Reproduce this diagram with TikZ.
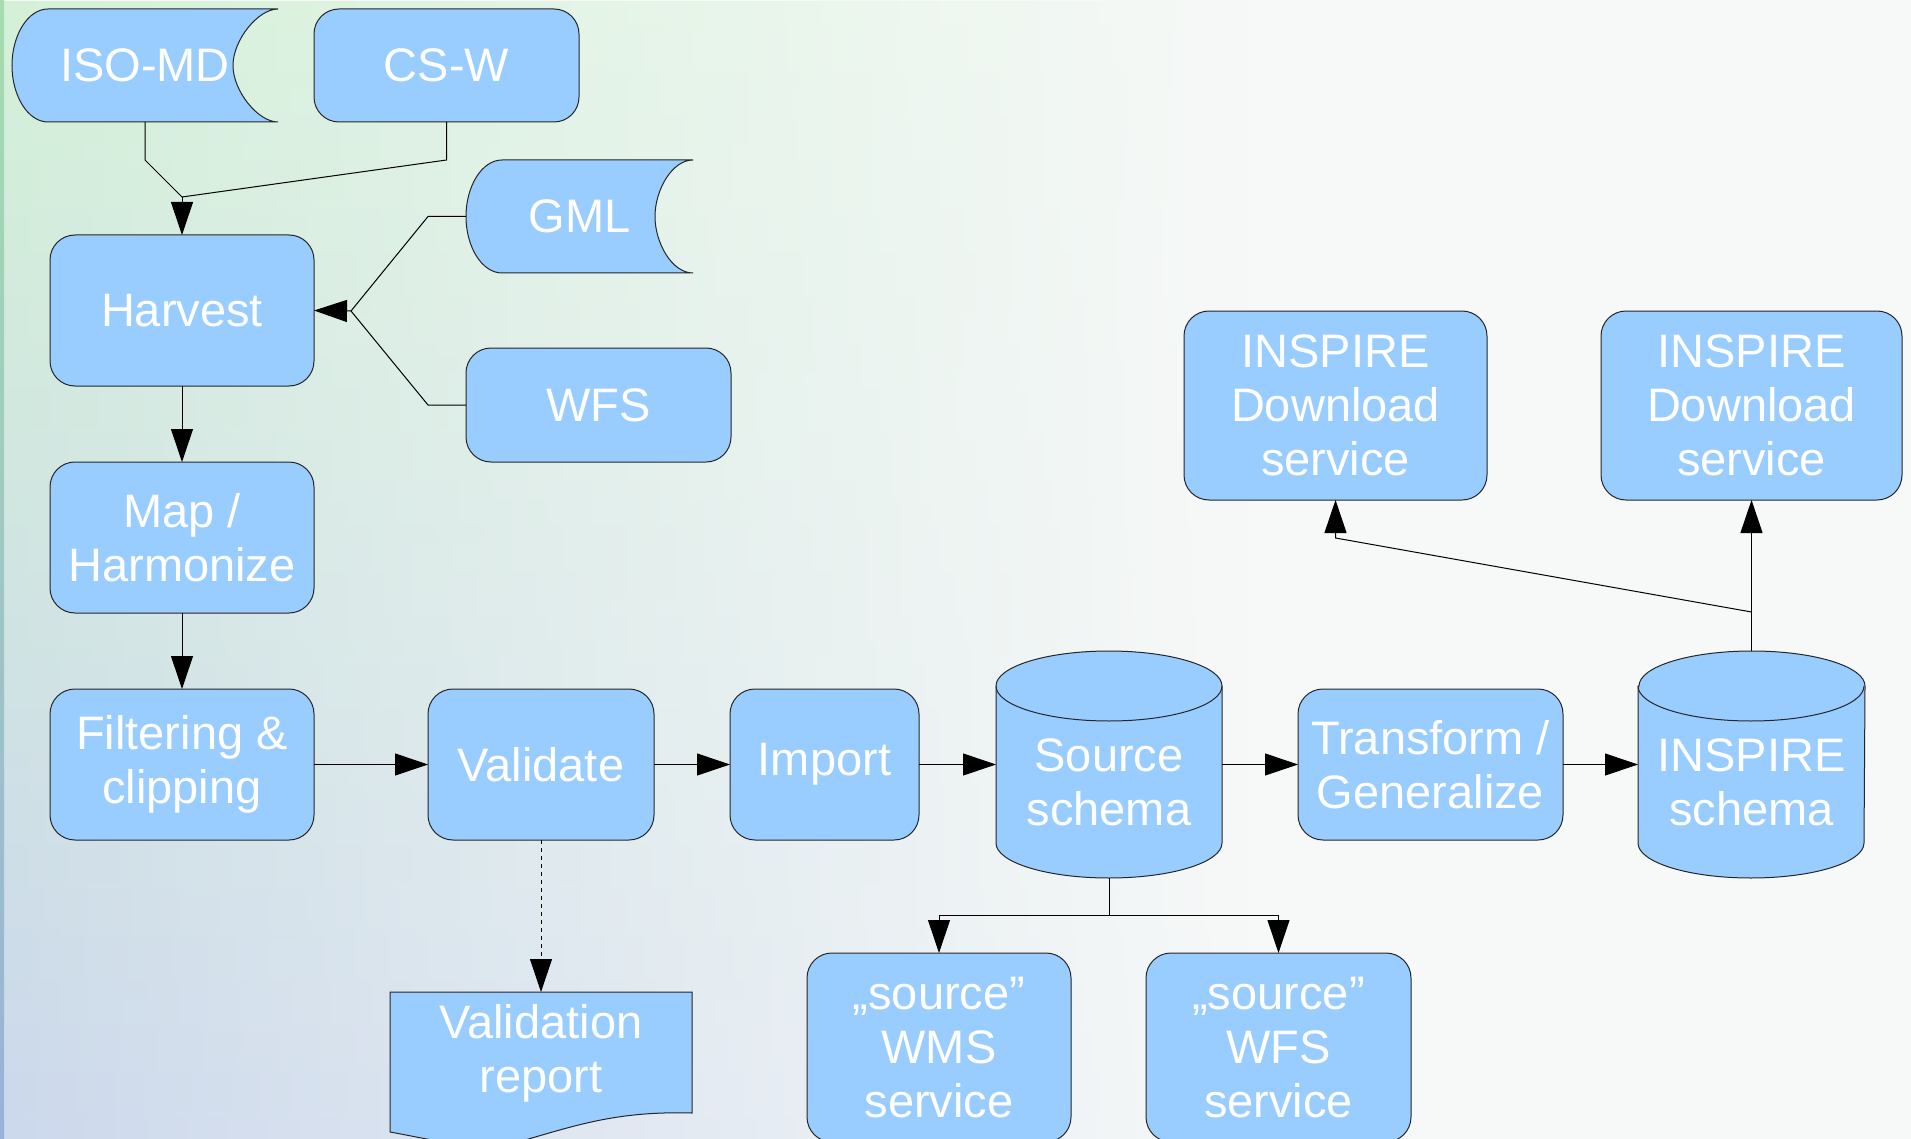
\documentclass[tikz,border=0pt]{standalone}
\usepackage{fontspec}
\setmainfont{Liberation Sans}
\usetikzlibrary{arrows.meta,fadings,calc}
\definecolor{boxblue}{HTML}{99CCFF}
\definecolor{bgR}{HTML}{F7F9F8}
\definecolor{bgTL}{HTML}{D4F1D8}
\definecolor{bgBL}{HTML}{CCD8EC}
\definecolor{edgeT}{HTML}{A6DCAE}
\definecolor{edgeB}{HTML}{98B2D8}
\newcommand\boxfont{\fontsize{23.5}{27}\selectfont}
\tikzfading[name=fadeR, left color=transparent!0, right color=transparent!100]
\tikzset{
  shapeline/.style={draw=black!85, line width=0.5pt, fill=boxblue},
  box/.style={shapeline, rounded corners=12.5pt, text=white, font=\boxfont, align=center, inner sep=0pt, outer sep=0pt},
  holder/.style={draw=none, inner sep=0pt, outer sep=0pt},
  lbl/.style={text=white, font=\boxfont, align=center, inner sep=0pt},
  conn/.style={line width=0.5pt, draw=black},
  arr/.style={conn, -{Triangle[length=16.5pt,width=11pt]}},
}
\begin{document}
\begin{tikzpicture}[x=0.5pt, y=-0.5pt]
\useasboundingbox (0,0) rectangle (1911,1139);
% background
\fill[bgR] (0,0) rectangle (1911,1139);
\shade[top color=bgTL, bottom color=bgBL, path fading=fadeR] (0,0) rectangle (1250,1139);
\shade[top color=edgeT, bottom color=edgeB] (0,0) rectangle (4,1139);

% ---- stored data shapes (ISO-MD, GML)
% ISO-MD: L12 R278 T9 B122
\path[shapeline] (48,9) -- (278,9)
  .. controls (258,9) and (233,40) .. (233,65.5)
  .. controls (233,91) and (258,122) .. (278,122)
  -- (48,122)
  .. controls (28,122) and (12,96) .. (12,65.5)
  .. controls (12,35) and (28,9) .. (48,9) -- cycle;
\node[holder, minimum width=133pt, minimum height=56.5pt] (iso) at (145,65.5) {};
\node[lbl] (isoT) at (145,65.5) {ISO-MD};
% GML: L466 R693 T160 B273
\path[shapeline] (502,160) -- (693,160)
  .. controls (672,160) and (655,190) .. (655,216.5)
  .. controls (655,243) and (672,273) .. (693,273)
  -- (502,273)
  .. controls (482,273) and (466,247) .. (466,216.5)
  .. controls (466,186) and (482,160) .. (502,160) -- cycle;
\node[holder, minimum width=113.5pt, minimum height=56.5pt] (gml) at (579.5,216.5) {};
\node[lbl] (gmlT) at (579.5,216.5) {GML};

% ---- rounded boxes
\node[box, minimum width=132.5pt, minimum height=56.5pt] (csw) at (446.5,65.5) {CS-W};
\node[box, minimum width=132.5pt, minimum height=57pt] (wfs) at (598.5,405) {WFS};
\node[box, minimum width=132pt, minimum height=75.5pt] (harvest) at (182,310.5) {Harvest};
\node[box, minimum width=132pt, minimum height=75.5pt] (map) at (182,537.5) {Map /\\Harmonize};
\node[box, minimum width=132pt, minimum height=75.5pt] (filter) at (182,764.5) {Filtering \&\\clipping};
\node[box, minimum width=113pt, minimum height=75.5pt] (validate) at (541,764.5) {Validate};
\node[box, minimum width=94.5pt, minimum height=75.5pt] (import) at (824.5,764.5) {Import};
\node[box, minimum width=132.5pt, minimum height=75.5pt] (transform) at (1430.5,764.5) {Transform /\\Generalize};
\node[box, minimum width=151.5pt, minimum height=94.5pt] (dl1) at (1335.5,405.5) {INSPIRE\\Download\\service};
\node[box, minimum width=150.5pt, minimum height=94.5pt] (dl2) at (1751.5,405.5) {INSPIRE\\Download\\service};
\node[box, minimum width=132pt, minimum height=94.5pt] (wms) at (939,1047.5) {„source”\\WMS\\service};
\node[box, minimum width=132.5pt, minimum height=94.5pt] (wfs2) at (1278.5,1047.5) {„source”\\WFS\\service};

% ---- cylinders
% Source schema: L996 R1222, top ellipse center y 686, bottom ellipse center y 843
\path[shapeline] (996,686) -- (996,843)
  arc[start angle=180, end angle=360, x radius=56.5pt, y radius=17.5pt]
  -- (1222,686)
  arc[start angle=0, end angle=180, x radius=56.5pt, y radius=17.5pt] -- cycle;
\draw[draw=black!85, line width=0.5pt] (996,686) arc[start angle=180, end angle=360, x radius=56.5pt, y radius=17.5pt];
\node[holder, minimum width=113pt, minimum height=113.5pt] (src) at (1109,764.5) {};
\node[lbl] (srcT) at (1109,782) {Source\\schema};
% INSPIRE schema: L1638 R1865
\path[shapeline] (1638,686) -- (1638,843)
  arc[start angle=180, end angle=360, x radius=56.5pt, y radius=17.5pt]
  -- (1865,686)
  arc[start angle=0, end angle=180, x radius=56.5pt, y radius=17.5pt] -- cycle;
\draw[draw=black!85, line width=0.5pt] (1638,686) arc[start angle=180, end angle=360, x radius=56.5pt, y radius=17.5pt];
\node[holder, minimum width=113.5pt, minimum height=113.5pt] (isch) at (1751.5,764.5) {};
\node[lbl] (ischT) at (1751.5,782) {INSPIRE\\schema};

% ---- document shape (Validation report): L390 R692 T992
\path[shapeline] (390,992) -- (692,992) -- (692,1113)
  .. controls (620,1111) and (580,1124) .. (525,1140)
  .. controls (475,1152) and (435,1140) .. (390,1132) -- cycle;
\node[holder, minimum width=151pt, minimum height=61pt] (rep) at (541,1053) {};
\node[lbl] (repT) at (541,1053) {Validation\\report};

% ---- connectors
\coordinate (j1) at (182,197);
\draw[conn] (iso.south) -- ([yshift=-19pt]iso.south) -- (j1);
\draw[conn] (csw.south) -- ([yshift=-19pt]csw.south) -- (j1);
\draw[arr] (j1) -- (harvest.north);

\coordinate (j2) at (351,311);
\draw[conn] (gml.west) -- ++(-38,0) -- (j2);
\draw[conn] (wfs.west) -- ++(-38,0) -- (j2);
\draw[arr] (j2) -- (harvest.east);

\draw[arr] (harvest.south) -- (map.north);
\draw[arr] (map.south) -- (filter.north);
\draw[arr] (filter.east) -- (validate.west);
\draw[arr] (validate.east) -- (import.west);
\draw[arr] (import.east) -- (src.west);
\draw[arr] (src.east) -- (transform.west);
\draw[arr] (transform.east) -- (isch.west);
\draw[arr, dash pattern=on 2pt off 2pt] (validate.south) -- (rep.north);

\coordinate (j3) at (1109,915);
\draw[conn] (src.south) -- (j3);
\draw[arr] (j3) -| (wms.north);
\draw[arr] (j3) -| (wfs2.north);

\coordinate (j4) at (1751.5,612);
\draw[conn] (isch.north) -- (j4);
\draw[arr] (j4) -- (dl2.south);
\draw[arr] (j4) -- ([yshift=-19pt]dl1.south) -- (dl1.south);
\end{tikzpicture}
\end{document}
